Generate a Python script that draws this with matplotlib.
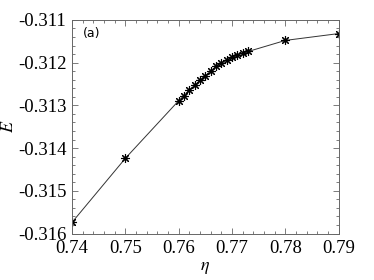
import matplotlib
matplotlib.use("Agg")
import matplotlib.pyplot as plt
from matplotlib.ticker import MultipleLocator, FormatStrFormatter

eta = [0.74, 0.75, 0.76, 0.761, 0.762, 0.763, 0.764, 0.765, 0.766, 0.767,
       0.768, 0.769, 0.770, 0.771, 0.772, 0.773, 0.78, 0.79]
energy = [-0.31574, -0.31424, -0.31289, -0.31277, -0.31264, -0.31253,
          -0.31241, -0.31231, -0.31219, -0.31209, -0.31200, -0.31194,
          -0.31188, -0.31183, -0.31178, -0.31174, -0.31148, -0.31132]

plt.rcParams['font.family'] = 'serif'
plt.rcParams['font.serif'] = ['Liberation Serif', 'Times New Roman', 'DejaVu Serif']
plt.rcParams['mathtext.fontset'] = 'stix'

fig = plt.figure(figsize=(3.74, 2.8), dpi=100)
ax = fig.add_axes([0.1925, 0.166, 0.7135, 0.763])

ax.plot(eta, energy, color='#333333', lw=0.7, marker=(8, 2, 0),
        markersize=6.5, markeredgecolor='black', markeredgewidth=0.8)

ax.set_xlim(0.74, 0.79)
ax.set_ylim(-0.316, -0.311)
ax.xaxis.set_major_locator(MultipleLocator(0.01))
ax.xaxis.set_minor_locator(MultipleLocator(0.002))
ax.yaxis.set_major_locator(MultipleLocator(0.001))
ax.yaxis.set_minor_locator(MultipleLocator(0.0002))
ax.xaxis.set_major_formatter(FormatStrFormatter('%.2f'))
ax.yaxis.set_major_formatter(FormatStrFormatter('%.3f'))

ax.tick_params(which='both', direction='in', top=True, right=True,
               colors='#666666', labelcolor='black', labelsize=13.5)
ax.tick_params(axis='x', pad=5)
ax.tick_params(axis='y', pad=4)
ax.tick_params(which='major', length=4, width=0.6)
ax.tick_params(which='minor', length=2, width=0.6)
for s in ax.spines.values():
    s.set_color('#666666')
    s.set_linewidth(0.7)

ax.set_xlabel(r'$\eta$', fontsize=13, labelpad=1)
ax.set_ylabel(r'$E$', fontsize=13)
ax.yaxis.set_label_coords(-0.205, 0.5)
ax.text(0.04, 0.965, '(a)', transform=ax.transAxes, fontsize=9,
        family='DejaVu Sans', va='top', ha='left')

fig.savefig('out.png', dpi=100)
